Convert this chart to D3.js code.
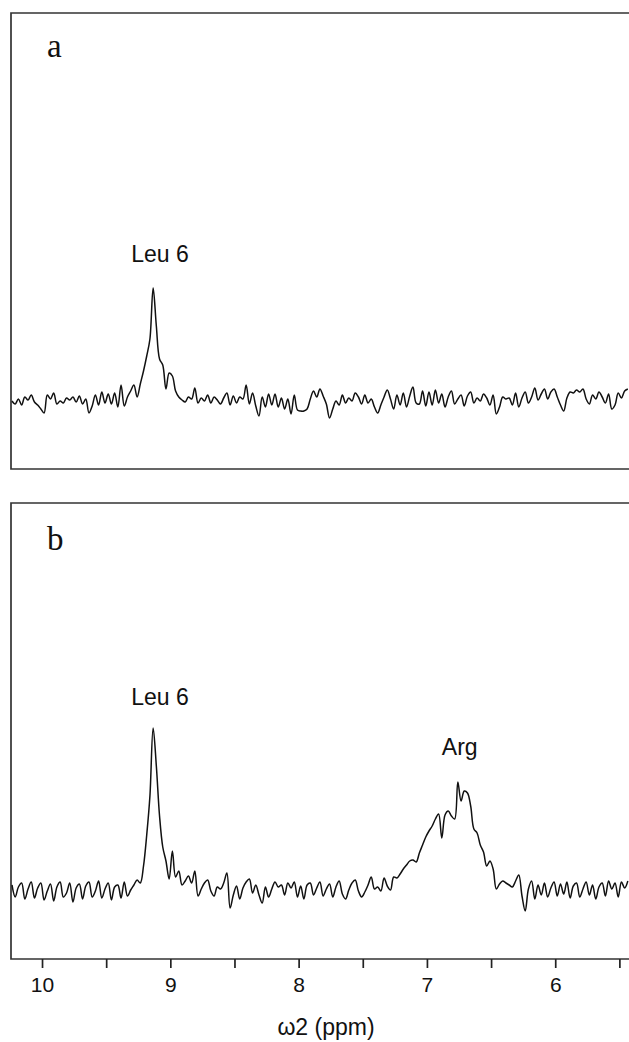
<!DOCTYPE html>
<html>
<head>
<meta charset="utf-8">
<script src="https://cdn.jsdelivr.net/npm/d3@7"></script>
<style>
  body { margin: 0; background: #fff; }
  svg { display: block; }
</style>
</head>
<body>
<svg id="chart" width="629" height="1042"></svg>
<script>
// chemical shift sampling of the traces (ppm), left to right
var ppmStart = 10.234;
var ppmStep = 0.025;

// panel a: intensity above baseline
var specA = [0, -3, 2, -4, 4, 1, 6, -1, -4, -8, -12,
  6, 2, 8, -3, 0, -2, 3, 1, 4, -1,
  5, -3, 2, -12, -5, 6, -4, 9, -2, 7,
  -3, 8, -6, 16, -5, 4, 10, 16, 4,
  17, 30, 45, 62, 113, 75, 42, 36, 12, 28, 25, 10, 4, 1,
  -1, 4, 2, 13, -2, 3, 0,
  6, -2, 4, 1, -3, 3, 8, -4, 5, -2,
  4, 2, 16, -3, 8, -5, -15, 4, -6, 7,
  -4, 7, -6, 3, -8, 2, -13, 6, -9, -10,
  -10, -8, 2, 10, 4, 12, 5, -3, -17, -8,
  0, -4, 6, -2, 3, 0, 8, 4, -3, 6,
  -2, 2, -6, -12, -4, 4, 11, 2, -8, 6,
  -4, 8, -6, 5, 14, -2, -3, 10, -5, 9,
  -4, 11, -2, 7, -6, 4, 10, -3, 2, 6,
  -5, 5, 9, -2, 3, 0, 7, 3, -4, 6,
  -13, -6, 4, 2, 3, -4, 8, -6, 3, 9,
  -2, 4, 13, 1, 7, 12, 2, 9, 12, 4,
  -4, -10, 3, 9, 8, 11, 9, 12, 2, -3,
  6, 2, 9, 4, -2, 7, -8, -4, 8, 3, 10, 12];

// panel b
var specB = [6, -6, 4, 8, -8, 2, 9, -7, 3, 8,
  -9, 0, 7, -10, 4, 9, -6, -2, 8, -11,
  3, 7, -8, 5, 9, -6, 0, 10, -7, 2,
  8, -9, 4, 6, -7, 9, -5, 1, 6, 11,
  8, 25, 56, 95, 163, 125, 75, 44, 30, 12,
  40, 14, 20, 6, 10, 15, 8, 20, -5, 2,
  8, 11, 0, -5, 4, 2, 8, 18, -17, -4,
  5, -8, 3, 9, 12, -2, 6, -4, -12, 4,
  -6, 2, 9, 4, 6, -4, 8, 3, 9, -6,
  5, -8, 6, 8, -4, 3, 9, -5, 2, 7,
  -6, 4, 10, -3, -8, 1, 8, 11, 0, -6,
  -1, 6, 14, 2, 4, 0, 13, 5, 1, 14,
  13, 17, 22, 26, 30, 31, 29, 38, 46, 54,
  60, 65, 72, 77, 53, 76, 80, 75, 72, 109,
  90, 100, 98, 85, 62, 58, 46, 39, 25, 30,
  22, 2, 7, 10, 8, 6, 4, 10, 16, -5,
  -20, 2, 10, -8, 6, -4, 8, -6, 3, 9,
  -5, 7, -3, 9, -7, 5, 8, -6, 2, 9,
  -4, 6, -8, 4, 8, -5, 10, 2, 8, -6,
  9, 3, 10];

var xTicks = [10, 9.5, 9, 8.5, 8, 7.5, 7, 6.5, 6, 5.5];
var xTickLabels = ["10", "", "9", "", "8", "", "7", "", "6", ""];

var panels = [
  { id: "a", data: specA, top: 13, bottom: 469,
    peaks: [{ text: "Leu 6", ppm: 9.135, y: 262, dx: 7 }] },
  { id: "b", data: specB, top: 503, bottom: 959,
    peaks: [{ text: "Leu 6", ppm: 9.135, y: 705, dx: 7 }, { text: "Arg", ppm: 6.76, y: 755, dx: 2 }] }
];

var svg = d3.select("#chart");
var left = 11, right = 629;

var x = d3.scaleLinear().domain([10.234, 5.425]).range([12, 629]);

panels.forEach(function(p, k) {
  var g = svg.append("g");
  var y = d3.scaleLinear().domain([-68, 388]).range([p.bottom, p.top]);

  // frame: top, left, bottom (right edge is cut off)
  g.append("path")
    .attr("d", "M" + right + "," + p.top + "H" + left + "V" + p.bottom + "H" + right)
    .attr("fill", "none")
    .attr("stroke", "#333")
    .attr("stroke-width", 1.7);

  var line = d3.line()
    .x(function(d, i) { return x(ppmStart - i * ppmStep); })
    .y(function(d) { return y(d); })
    .curve(d3.curveCatmullRom.alpha(0.5));

  g.append("path")
    .datum(p.data)
    .attr("d", line)
    .attr("fill", "none")
    .attr("stroke", "#111")
    .attr("stroke-width", 1.5)
    .attr("stroke-linejoin", "round");

  g.append("text")
    .attr("x", 47)
    .attr("y", p.top + (k == 0 ? 44 : 47))
    .attr("font-family", "'Liberation Serif', 'DejaVu Serif', serif")
    .attr("font-size", 33)
    .attr("fill", "#111")
    .text(p.id);

  p.peaks.forEach(function(pk) {
    g.append("text")
      .attr("x", x(pk.ppm) + pk.dx)
      .attr("y", pk.y)
      .attr("text-anchor", "middle")
      .attr("font-family", "'Liberation Sans', Arial, sans-serif")
      .attr("font-size", 23)
      .attr("fill", "#111")
      .text(pk.text);
  });
});

// shift axis under panel b
var axis = d3.axisBottom(x)
  .tickValues(xTicks)
  .tickSize(9)
  .tickPadding(9)
  .tickFormat(function(d, i) { return xTickLabels[i]; });

var ax = svg.append("g")
  .attr("transform", "translate(0,959)")
  .call(axis);

ax.select(".domain").remove();
ax.selectAll(".tick line").attr("stroke", "#222").attr("stroke-width", 1.7);
ax.selectAll(".tick text")
  .attr("font-family", "'Liberation Sans', Arial, sans-serif")
  .attr("font-size", 21)
  .attr("fill", "#111");

svg.append("text")
  .attr("x", 326)
  .attr("y", 1035)
  .attr("text-anchor", "middle")
  .attr("font-family", "'Liberation Sans', Arial, sans-serif")
  .attr("font-size", 23)
  .attr("fill", "#111")
  .text("ω2 (ppm)");
</script>
</body>
</html>
